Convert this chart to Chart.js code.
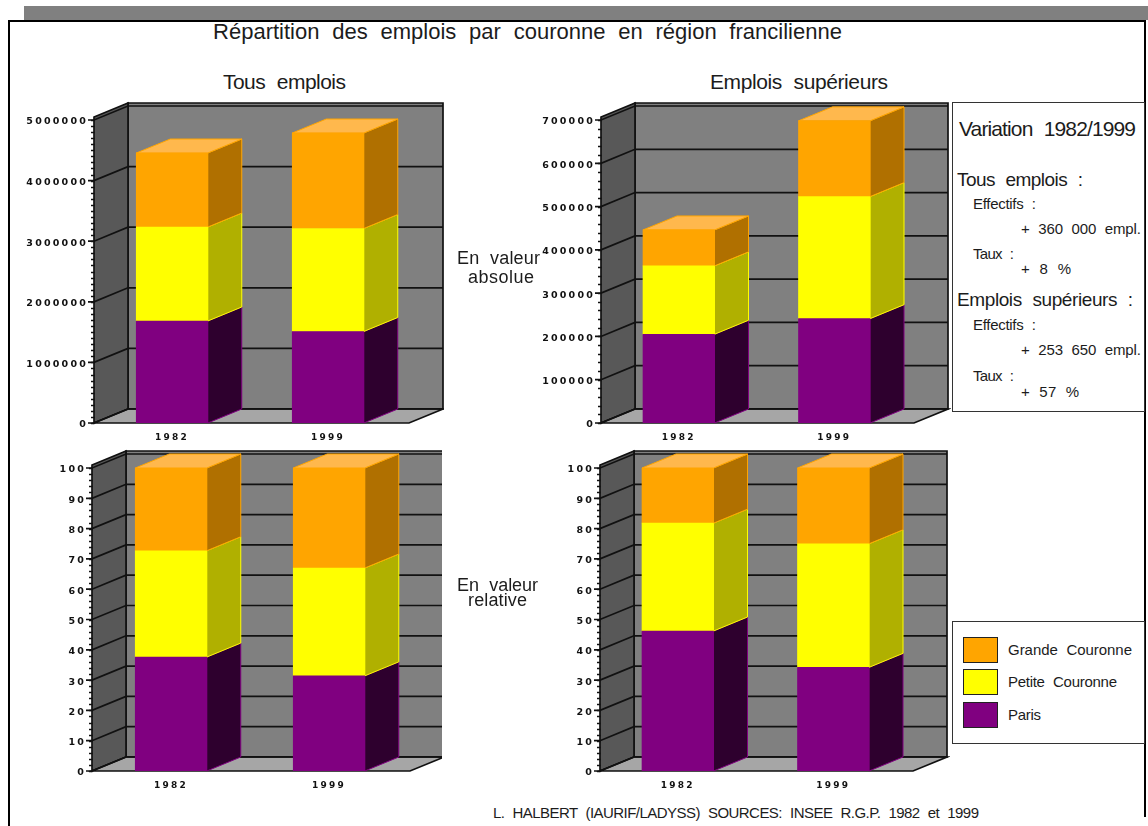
<!DOCTYPE html>
<html lang="fr">
<head>
<meta charset="UTF-8">
<title>Répartition des emplois par couronne en région francilienne</title>
<script src="https://cdn.jsdelivr.net/npm/chart.js"></script>
<style>
    html, body { margin: 0; padding: 0; background: #fff; }
    body { width: 1148px; height: 826px; position: relative; overflow: hidden; font-family: "Liberation Sans", Arial, sans-serif; color: #1c1c1c; }
    canvas { position: absolute; }
    .band { position: absolute; left: 24px; top: 6px; width: 1124px; height: 14px; background: #808080; }
    .line { position: absolute; background: #000; }
    .box { position: absolute; border: 1.5px solid #333; box-sizing: border-box; background: #fff; }
    .swatch { position: absolute; left: 963px; width: 35px; border: 1.5px solid #222; box-sizing: border-box; }
    .t { position: absolute; white-space: nowrap; line-height: 1; transform: translateY(-50%); }
</style>
</head>
<body>
<div class="band"></div>
<div class="line" style="left:8px;top:20px;width:2px;height:806px"></div>
<div class="line" style="left:8px;top:20px;width:1138px;height:2px"></div>
<div class="line" style="left:1144px;top:20px;width:2px;height:797px"></div>
<div class="box" style="left:952px;top:102px;width:193px;height:310px"></div>
<div class="box" style="left:952px;top:621px;width:193px;height:123px"></div>

<canvas id="absAll" width="430" height="342" style="left:14px;top:100px"></canvas>
<canvas id="absSup" width="430" height="342" style="left:521px;top:100px"></canvas>
<canvas id="relAll" width="430" height="342" style="left:12px;top:448px"></canvas>
<canvas id="relSup" width="430" height="342" style="left:520px;top:448px"></canvas>

<script>
const years = ['1982', '1999'];
const seriesNames = ['Paris', 'Petite Couronne', 'Grande Couronne'];
const frontColors = ['#800080', '#ffff00', '#ffa500'];
const sideColors = ['#2e002e', '#b0b000', '#b07000'];
const topColor = '#ffb84d';

// effectifs
const allParis = [1683000, 1510000];
const allPetite = [1551000, 1700000];
const allGrande = [1221000, 1575000];
const supParis = [205000, 241000];
const supPetite = [158000, 282000];
const supGrande = [83000, 175000];
// pourcentages
const relAllParis = [37.6, 31.4];
const relAllPetite = [35.1, 35.6];
const relAllGrande = [27.3, 33.0];
const relSupParis = [46.2, 34.2];
const relSupPetite = [35.6, 40.8];
const relSupGrande = [18.2, 25.0];

const depthX = 34, depthY = 14;

// fake 3D : walls, floor and the side faces are projected from the chart's own scales
const box3d = {
    id: 'box3d',
    beforeDraw(chart) {
        chart.ctx.letterSpacing = '2.2px';
    },
    beforeDatasetsDraw(chart, args, opts) {
        const ctx = chart.ctx, y = chart.scales.y;
        const a = chart.chartArea;
        const L = a.left, T = a.top, B = a.bottom, FR = opts.floorRight;
        const backL = L + depthX, backR = FR + depthX, backT = T - depthY - 3, backB = B - depthY;
        const poly = (pts, fill, stroke, w) => {
            ctx.beginPath();
            pts.forEach((p, i) => i ? ctx.lineTo(p[0], p[1]) : ctx.moveTo(p[0], p[1]));
            ctx.closePath();
            if (fill) { ctx.fillStyle = fill; ctx.fill(); }
            if (stroke) { ctx.strokeStyle = stroke; ctx.lineWidth = w || 1; ctx.stroke(); }
        };
        ctx.save();
        poly([[backL, backT], [backR, backT], [backR, backB], [backL, backB]], '#808080', '#111', 1.7);
        poly([[L, B], [backL, backB], [backL, backT], [L, T - 3]], '#585858', '#111', 1.7);
        poly([[L, B], [backL, backB], [backR, backB], [FR, B]], '#a6a6a6', '#111', 1.7);

        // grid on the walls
        ctx.strokeStyle = '#111';
        ctx.lineWidth = 1.7;
        y.ticks.forEach(t => {
            const py = y.getPixelForValue(t.value);
            ctx.beginPath();
            ctx.moveTo(L - 6, py);
            ctx.lineTo(L, py);
            ctx.lineTo(backL, py - depthY);
            ctx.lineTo(backR, py - depthY);
            ctx.stroke();
        });
        // minor ticks
        ctx.lineWidth = 1.5;
        for (let v = 0; v <= y.max; v += opts.minor) {
            const py = Math.round(y.getPixelForValue(v)) + 0.5;
            ctx.beginPath();
            ctx.moveTo(L - 3, py);
            ctx.lineTo(L + 0.5, py);
            ctx.stroke();
        }

        // side and top faces of the bars
        const last = chart.data.datasets.length - 1;
        chart.data.datasets.forEach((ds, i) => {
            chart.getDatasetMeta(i).data.forEach(bar => {
                const r = bar.x + bar.width / 2, l = bar.x - bar.width / 2;
                poly([[r, bar.y], [r + depthX, bar.y - depthY], [r + depthX, bar.base - depthY], [r, bar.base]],
                    sideColors[i], frontColors[i], 1);
                if (i === last) {
                    poly([[l, bar.y], [l + depthX, bar.y - depthY], [r + depthX, bar.y - depthY], [r, bar.y]],
                        topColor, frontColors[i], 1);
                }
            });
        });
        ctx.restore();
    }
};

function makeChart(id, canvasLeft, canvasTop, area, series, max, step, minor) {
    const canvas = document.getElementById(id);
    return new Chart(canvas, {
        type: 'bar',
        plugins: [box3d],
        data: {
            labels: years,
            datasets: series.map((values, i) => ({
                label: seriesNames[i],
                data: values,
                backgroundColor: frontColors[i],
                barThickness: 71.5
            }))
        },
        options: {
            responsive: false,
            animation: false,
            layout: { padding: { top: area.top - canvasTop, right: canvas.width - (area.right - canvasLeft), left: 0, bottom: 0 } },
            plugins: {
                legend: { display: false },
                title: { display: false },
                tooltip: { enabled: false },
                box3d: { floorRight: area.floorRight - canvasLeft, minor: minor }
            },
            scales: {
                x: {
                    stacked: true,
                    grid: { display: false, drawTicks: false },
                    border: { display: false },
                    ticks: { color: '#111', padding: 9, maxRotation: 0, font: { family: 'DejaVu Sans', size: 9, weight: 'bold' } },
                    afterFit(s) { s.height = canvas.height - (area.bottom - canvasTop); }
                },
                y: {
                    stacked: true,
                    min: 0,
                    max: max,
                    grid: { display: false, drawTicks: false },
                    border: { display: false },
                    ticks: {
                        stepSize: step,
                        color: '#111',
                        padding: 6,
                        labelOffset: 2,
                        font: { family: 'DejaVu Sans', size: 9.5, weight: 'bold' },
                        callback: v => String(v)
                    },
                    afterFit(s) { s.width = area.left - canvasLeft; }
                }
            }
        }
    });
}

makeChart('absAll', 14, 100, { left: 94, right: 406, floorRight: 409, top: 120, bottom: 423 }, [allParis, allPetite, allGrande], 5000000, 1000000, 100000);
makeChart('absSup', 521, 100, { left: 601, right: 912, floorRight: 914, top: 120, bottom: 423 }, [supParis, supPetite, supGrande], 700000, 100000, 20000);
makeChart('relAll', 12, 448, { left: 92, right: 408, floorRight: 410, top: 468, bottom: 771 }, [relAllParis, relAllPetite, relAllGrande], 100, 10, 2);
makeChart('relSup', 520, 448, { left: 600, right: 911, floorRight: 913, top: 468, bottom: 771 }, [relSupParis, relSupPetite, relSupGrande], 100, 10, 2);

// all page text: text, left, right, vertical centre, font size
const texts = [
    ['Répartition des emplois par couronne en région francilienne', 213, 842, 32, 22],
    ['Tous emplois', 223, 346, 81, 21],
    ['Emplois supérieurs', 710, 888, 81, 21],
    ['En valeur', 457, 540, 258, 18],
    ['absolue', 468, 534, 277, 18],
    ['En valeur', 457, 538, 585, 18],
    ['relative', 468, 527, 600, 18],
    ['Variation 1982/1999', 959, 1136, 128, 21],
    ['Tous emplois :', 957, 1083, 179, 19],
    ['Effectifs :', 973, 1036, 203, 15],
    ['+ 360 000 empl.', 1021, 1141, 228, 15],
    ['Taux :', 973, 1014, 253, 15],
    ['+ 8 %', 1021, 1071, 268, 15],
    ['Emplois supérieurs :', 957, 1133, 299, 19],
    ['Effectifs :', 973, 1036, 324, 15],
    ['+ 253 650 empl.', 1021, 1141, 349, 15],
    ['Taux :', 973, 1014, 375, 15],
    ['+ 57 %', 1021, 1079, 391, 15],
    ['L. HALBERT (IAURIF/LADYSS) SOURCES: INSEE R.G.P. 1982 et 1999', 493, 979, 812, 15]
];

function addText(str, x0, x1, cy, size) {
    const d = document.createElement('div');
    d.className = 't';
    d.textContent = str;
    d.style.left = x0 + 'px';
    d.style.top = cy + 'px';
    d.style.fontSize = size + 'px';
    d.style.wordSpacing = '0.3em';
    document.body.appendChild(d);
    const w = d.getBoundingClientRect().width;
    d.style.letterSpacing = ((x1 - x0 - w) / (str.length - 1)) + 'px';
}

texts.forEach(t => addText(t[0], t[1], t[2], t[3], t[4]));

// legend, top to bottom like the stack
const legendY = [637, 669, 702];
const legendRight = [1132, 1117, 1041];
[2, 1, 0].forEach((s, i) => {
    const sw = document.createElement('div');
    sw.className = 'swatch';
    sw.style.top = legendY[i] + 'px';
    sw.style.height = '26px';
    sw.style.background = frontColors[s];
    document.body.appendChild(sw);
    addText(seriesNames[s], 1008, legendRight[i], legendY[i] + 12, 15);
});
</script>
</body>
</html>
